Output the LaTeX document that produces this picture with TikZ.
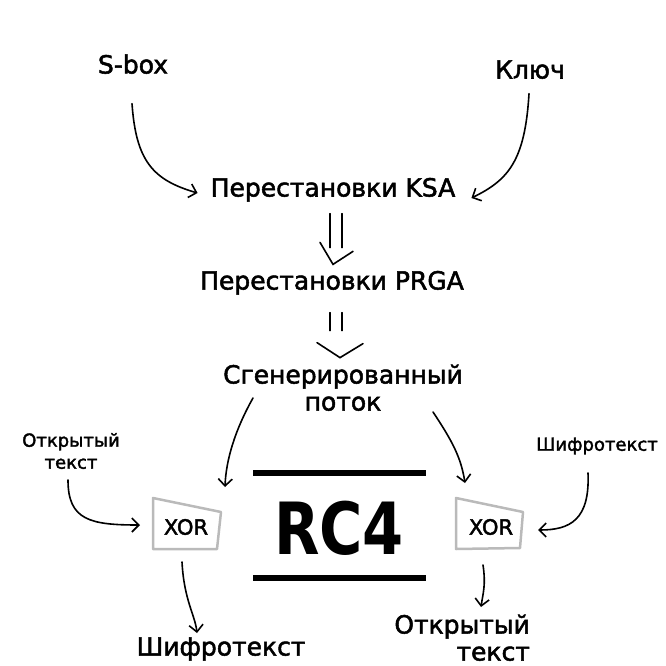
\documentclass[tikz,border=0pt]{standalone}
\usepackage{fontspec}
\setmainfont{DejaVu Sans}[BoldFont={DejaVu Sans}, BoldFeatures={FakeBold=2}]
\newfontfamily\heavyfont{DejaVu Sans}
\usetikzlibrary{calc,arrows.meta}

\begin{document}
\begin{tikzpicture}[x=1pt, y=-1pt, >={Straight Barb[length=7pt,width=14pt]},
  line width=1.6pt, line cap=round,
  lbl/.style={font=\bfseries\fontsize{25}{27}\selectfont, align=center, text height=18pt, text depth=5pt},
  smalllbl/.style={font=\bfseries\fontsize{18}{22}\selectfont, align=center},
  xortext/.style={font=\bfseries\fontsize{21}{24}\selectfont},
  xorbox/.style={draw=black!27, line width=2.5pt, line cap=butt, line join=round},
  bar/.style={line width=6.5pt, line cap=butt}]

\useasboundingbox (0,0) rectangle (666,666);

% labels
\node[lbl] (sbox) at (133,67) {S-box};
\node[lbl] (key) at (530,72) {Ключ};
\node[lbl] (ksa) at (333,190) {Перестановки KSA};
\node[lbl] (prga) at (332,283) {Перестановки PRGA};
\node[lbl] (stream) at (343,404) {Сгенерированный\\поток};
\node[smalllbl] (plainL) at (71,451) {Открытый\\текст};
\node[smalllbl] (cipherR) at (597,446) {Шифротекст};
\node[lbl] (cipherB) at (221,649) {Шифротекст};
\node[lbl, align=right, anchor=east] (plainB) at (534,654) {Открытый\\текст};

% xor blocks
\node[xortext] (xorL) at (186,527) {XOR};
\node[xortext] (xorR) at (491,527) {XOR};
\draw[xorbox] ($(xorL)+(-33,-29)$) -- ($(xorL)+(35,-15)$) -- ($(xorL)+(31,22)$) -- ($(xorL)+(-33,22)$) -- cycle;
\draw[xorbox] ($(xorR)+(-35,-29)$) -- ($(xorR)+(32,-15)$) -- ($(xorR)+(29,21)$) -- ($(xorR)+(-35,22)$) -- cycle;

% RC4
\node[font=\heavyfont\bfseries\fontsize{72}{72}\selectfont, xscale=0.82] (rc) at (339,528) {RC4};
\draw[bar] ($(rc)+(-86,-55)$) -- ($(rc)+(87,-55)$);
\draw[bar] ($(rc)+(-86,50)$) -- ($(rc)+(87,50)$);

% inputs of KSA
\draw[->] ($(sbox.south)+(-1,21)$) .. controls +(4,57) and +(-45,-13) .. ($(ksa.west)+(-9,3)$);
\draw[->] ($(key.south)+(-1,6)$) .. controls +(-4,67) and +(37,-18) .. ($(ksa.east)+(12,8)$);

% double arrows
\draw ($(ksa.south)+(-3,8)$) -- ++(0,34) ($(ksa.south)+(9,8)$) -- ++(0,34);
\draw ($(prga.north)+(-12,-25)$) -- ($(prga.north)+(1,-3)$) -- ($(prga.north)+(21,-16)$);
\draw ($(prga.south)+(-2,14)$) -- ++(0,18) ($(prga.south)+(10,14)$) -- ++(0,18);
\draw ($(prga.south)+(-15,44)$) -- ($(prga.south)+(8,59)$) -- ($(prga.south)+(31,45)$);

% stream to xor
\draw[->] ($(stream)+(-90,-6)$) .. controls +(-18,32) and +(1,-27) .. ($(xorL)+(39,-40)$);
\draw[->] ($(stream)+(90,8)$) .. controls +(20,30) and +(-4,-25) .. ($(xorR)+(-26,-44)$);

% text to xor
\draw[->] ($(plainL)+(-3,29)$) .. controls +(0,40) and +(-50,0) .. ($(xorL)+(-46,-2)$);
\draw[->] ($(cipherR)+(-9,27)$) .. controls +(2,47) and +(32,0) .. ($(xorR)+(47,3)$);

% xor to result
\draw[->] ($(xorL)+(-4,35)$) .. controls +(2,38) and +(-2,-18) .. ($(xorL)+(11,106)$);
\draw[->] ($(xorR)+(-8,38)$) .. controls +(3,20) and +(2,-14) .. ($(xorR)+(-10,80)$);
\end{tikzpicture}
\end{document}
